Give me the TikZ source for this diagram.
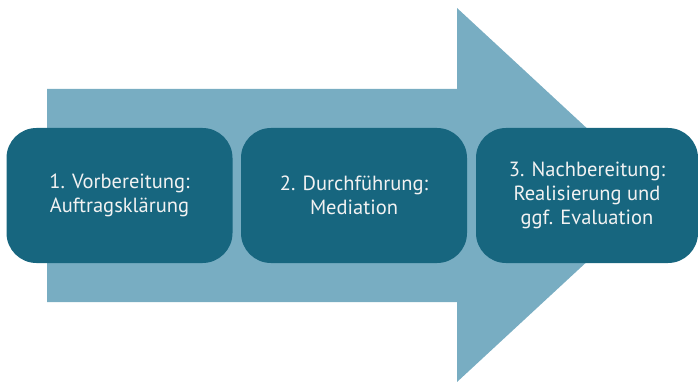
\documentclass[tikz,border=0pt]{standalone}
\usepackage{fontspec}
\setmainfont{PT Sans}
\definecolor{arrowlight}{HTML}{78ADC2}
\definecolor{boxdark}{HTML}{17667F}
\definecolor{boxtext}{HTML}{F2F2F2}
\begin{document}
\begin{tikzpicture}[x=1pt,y=-1pt,
  stepbox/.style={fill=boxdark, draw=none, rounded corners=30pt, minimum width=226pt, minimum height=135pt,
    text=boxtext, align=center, font=\fontsize{20.5}{24}\selectfont, inner sep=0pt}]
\useasboundingbox (0,0) rectangle (698,382);
% big arrow
\fill[arrowlight] (47,89) -- (457,89) -- (457,8) -- (659,195) -- (457,382) -- (457,302) -- (47,302) -- cycle;
\node[stepbox] (s1) at (119.5,195.5) {1. Vorbereitung:\\Auftragsklärung};
\node[stepbox] (s2) at (354,195.5) {2. Durchführung:\\Mediation};
\node[stepbox, minimum width=222pt] (s3) at (587,195.5) {3. Nachbereitung:\\Realisierung und\\ggf. Evaluation};
\end{tikzpicture}
\end{document}
